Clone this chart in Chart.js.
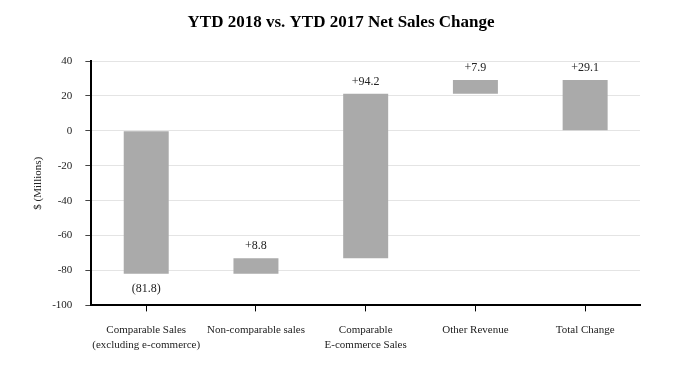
<!DOCTYPE html>
<html><head><meta charset="utf-8">
<script src="https://cdn.jsdelivr.net/npm/chart.js@4"></script>
<style>html,body{margin:0;padding:0;background:#fff}#wrap{width:682px;height:370px}</style>
</head><body><div id="wrap"><canvas id="c"></canvas></div>
<script>
const titleText = 'YTD 2018 vs. YTD 2017 Net Sales Change';
const categories = [["Comparable Sales","(excluding e-commerce)"],"Non-comparable sales",["Comparable","E-commerce Sales"],"Other Revenue","Total Change"];
const changes = [-81.8, 8.8, 94.2, 7.9];
const total = 29.1;
const valueLabels = ["(81.8)","+8.8","+94.2","+7.9","+29.1"];
const yTicks = [40,20,0,-20,-40,-60,-80,-100];

const floats = [];
let run = 0;
changes.forEach(v => { const s = run; run = +(run + v).toFixed(1); floats.push([s, run]); });
floats.push([0, total]);

const labelPlugin = {
  id: 'vl',
  afterDatasetsDraw(chart) {
    const ctx = chart.ctx;
    const meta = chart.getDatasetMeta(0);
    const ys = chart.scales.y;
    ctx.save();
    ctx.font = '12px "Liberation Serif", serif';
    ctx.fillStyle = '#222';
    ctx.textAlign = 'center';
    meta.data.forEach((bar, i) => {
      const [a, b] = floats[i];
      const neg = b < a;
      if (neg) {
        ctx.textBaseline = 'top';
        ctx.fillText(valueLabels[i], bar.x, ys.getPixelForValue(Math.min(a, b)) + 9);
      } else {
        ctx.textBaseline = 'bottom';
        ctx.fillText(valueLabels[i], bar.x, ys.getPixelForValue(Math.max(a, b)) - 6);
      }
    });
    ctx.font = 'bold 17px "Liberation Serif", serif';
    ctx.fillStyle = '#000';
    ctx.textBaseline = 'middle';
    ctx.fillText(titleText, chart.width / 2, 23);
    ctx.restore();
  }
};

new Chart(document.getElementById('c'), {
  type: 'bar',
  data: { labels: categories, datasets: [{ data: floats, backgroundColor: '#aaaaaa', borderWidth: 0, barPercentage: 0.82, categoryPercentage: 0.5 }] },
  options: {
    responsive: true, maintainAspectRatio: false, animation: false,
    layout: { padding: { left: 30, right: 42, top: 61, bottom: 6 } },
    plugins: {
      legend: { display: false }, tooltip: { enabled: false }, title: { display: false }
    },
    scales: {
      x: {
        grid: { display: true, drawOnChartArea: false, offset: false, tickLength: 6, color: '#000', tickWidth: 1 },
        border: { color: '#000', width: 2 },
        ticks: { color: '#222', font: { family: '"Liberation Serif", serif', size: 11, lineHeight: 1.3 }, padding: 12, maxRotation: 0, autoSkip: false }
      },
      y: {
        min: -100, max: 40,
        afterBuildTicks(s) { s.ticks = yTicks.map(v => ({ value: v })); },
        grid: { color: '#e4e4e4', tickColor: '#444', tickLength: 6, lineWidth: 1 },
        border: { color: '#000', width: 2 },
        ticks: { color: '#222', font: { family: '"Liberation Serif", serif', size: 11 }, padding: 13 },
        title: { display: true, text: '$ (Millions)', color: '#222', font: { family: '"Liberation Serif", serif', size: 11 }, padding: { top: 2, bottom: -6 } }
      }
    }
  },
  plugins: [labelPlugin]
});
</script></body></html>
